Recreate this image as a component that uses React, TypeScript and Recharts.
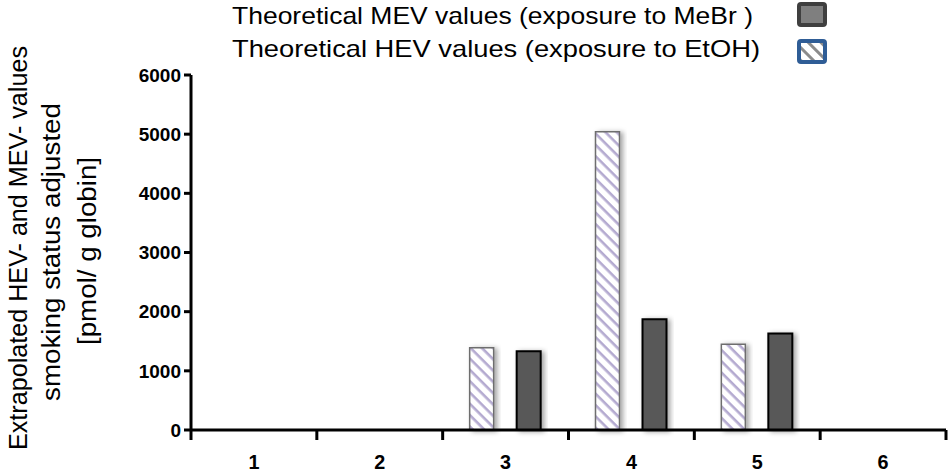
import { Bar, BarChart, Legend, XAxis, YAxis } from "recharts";

const categories = ["1", "2", "3", "4", "5", "6"];
const hevEtOH = [null, null, 1390, 5040, 1450, null];
const mevMeBr = [null, null, 1330, 1870, 1630, null];
const yTicks = [0, 1000, 2000, 3000, 4000, 5000, 6000];
const yTitle = [
  "Extrapolated HEV- and MEV- values",
  "smoking status adjusted",
  "[pmol/ g globin]",
];
const legendLabels = [
  "Theoretical MEV values (exposure to MeBr )",
  "Theoretical HEV  values (exposure to EtOH)",
];

const data = categories.map((c, i) => ({
  name: c,
  hev: hevEtOH[i],
  mev: mevMeBr[i],
}));

const W = 952;
const H = 475;
const margin = { top: 75, right: 6, left: 0, bottom: 0 };
const yAxisW = 191;
const bandW = (W - margin.left - margin.right - yAxisW) / categories.length;

const sans = "'Liberation Sans', Arial, sans-serif";

function XTick(props: any) {
  const { x, y, index } = props;
  return (
    <g>
      <line x1={x - bandW / 2} x2={x - bandW / 2} y1={y - 10} y2={y} stroke="#000" strokeWidth={3} />
      {index === categories.length - 1 && (
        <line x1={x + bandW / 2} x2={x + bandW / 2} y1={y - 10} y2={y} stroke="#000" strokeWidth={3} />
      )}
      <text
        x={x}
        y={y + 29}
        textAnchor="middle"
        fontFamily={sans}
        fontWeight="bold"
        fontSize={21}
        textLength={11}
        lengthAdjust="spacingAndGlyphs"
        fill="#000"
      >
        {props.payload.value}
      </text>
    </g>
  );
}

function LegendBox() {
  return (
    <svg width={W} height={70} style={{ display: "block" }}>
      <defs>
        <pattern id="legHatch" width="9" height="9" patternUnits="userSpaceOnUse" patternTransform="rotate(-45)">
          <rect width="9" height="9" fill="#fff" />
          <rect x="0" y="0" width="3" height="9" fill="#8c8c8c" />
        </pattern>
      </defs>
      <text x={232} y={24} fontFamily={sans} fontSize={24} textLength={521} lengthAdjust="spacingAndGlyphs" fill="#000">
        {legendLabels[0]}
      </text>
      <text x={232} y={57} fontFamily={sans} fontSize={24} textLength={528} lengthAdjust="spacingAndGlyphs" fill="#000">
        {legendLabels[1]}
      </text>
      <rect x={799} y={4} width={26} height={21} rx={2} fill="#7f7f7f" stroke="#3f3f3f" strokeWidth={4} />
      <rect x={799} y={41} width={26} height={21} rx={2} fill="url(#legHatch)" stroke="#2f5d96" strokeWidth={4} />
    </svg>
  );
}

export default function App() {
  return (
    <div style={{ width: W, height: H, background: "#fff" }}>
      <style>{`body{margin:0}`}</style>
      <BarChart width={W} height={H} data={data} margin={margin} barSize={24} barGap={23}>
        <defs>
          <pattern id="hatch" width="8" height="8" patternUnits="userSpaceOnUse" patternTransform="rotate(45)">
            <rect width="8" height="8" fill="#fff" />
            <rect x="0" y="0" width="8" height="2.6" fill="#b4aad0" />
          </pattern>
          <filter id="shadow" x="-30%" y="-10%" width="160%" height="120%">
            <feDropShadow dx="3" dy="1" stdDeviation="2.5" floodColor="#000" floodOpacity="0.35" />
          </filter>
        </defs>
        <Legend
          layout="vertical"
          align="center"
          verticalAlign="middle"
          wrapperStyle={{ top: 0, left: 0, width: W }}
          content={() => <LegendBox />}
        />
        <XAxis
          dataKey="name"
          height={45}
          axisLine={{ stroke: "#000", strokeWidth: 3 }}
          tickLine={false}
          tickSize={10}
          tickMargin={0}
          tick={<XTick />}
          interval={0}
        />
        <YAxis
          width={yAxisW}
          domain={[0, 6000]}
          ticks={yTicks}
          interval={0}
          axisLine={{ stroke: "#000", strokeWidth: 3 }}
          tickLine={{ stroke: "#000", strokeWidth: 3 }}
          tickSize={7}
          tickMargin={3}
          tick={{ fill: "#000", fontSize: 19, fontWeight: "bold", fontFamily: sans }}
        />
        <Bar
          dataKey="hev"
          name={legendLabels[1]}
          fill="url(#hatch)"
          stroke="#6e6e6e"
          strokeWidth={1.5}
          filter="url(#shadow)"
          isAnimationActive={false}
        />
        <Bar
          dataKey="mev"
          name={legendLabels[0]}
          fill="#595959"
          stroke="#000"
          strokeWidth={2}
          filter="url(#shadow)"
          isAnimationActive={false}
        />
        {yTitle.map((t, i) => {
          const pos = [
            { x: 18, y: 248, len: 404 },
            { x: 51, y: 252, len: 298 },
            { x: 87, y: 251, len: 188 },
          ][i];
          return (
            <text
              key={i}
              x={pos.x}
              y={pos.y}
              transform={`rotate(-90 ${pos.x} ${pos.y})`}
              textAnchor="middle"
              dominantBaseline="central"
              fontFamily={sans}
              fontSize={25}
              textLength={pos.len}
              lengthAdjust="spacingAndGlyphs"
              fill="#000"
            >
              {t}
            </text>
          );
        })}
      </BarChart>
    </div>
  );
}
